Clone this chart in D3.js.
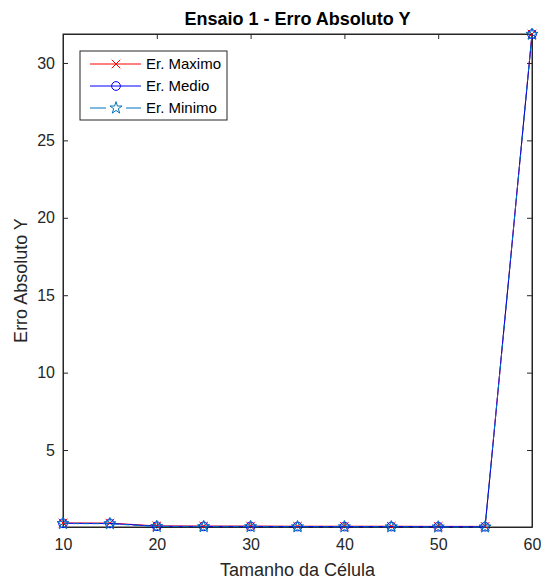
<!DOCTYPE html>
<html>
<head>
<meta charset="utf-8">
<script src="https://cdn.jsdelivr.net/npm/d3@7"></script>
<style>
  body { margin: 0; background: #fff; }
  text { font-family: "Liberation Sans", Arial, sans-serif; }
</style>
</head>
<body>
<div id="chart"></div>
<script>
// data
const cellSizes = [10, 15, 20, 25, 30, 35, 40, 45, 50, 55, 60];
const erroMaximo = [0.29, 0.28, 0.10, 0.09, 0.09, 0.08, 0.08, 0.08, 0.07, 0.07, 31.87];
const erroMedio  = [0.27, 0.26, 0.08, 0.07, 0.07, 0.06, 0.06, 0.06, 0.05, 0.05, 31.86];
const erroMinimo = [0.25, 0.24, 0.06, 0.05, 0.05, 0.04, 0.04, 0.04, 0.03, 0.03, 31.85];
const xTicks = [10, 20, 30, 40, 50, 60];
const yTicks = [5, 10, 15, 20, 25, 30];
const seriesNames = ["Er. Maximo", "Er. Medio", "Er. Minimo"];

const width = 541, height = 581;
const margin = { top: 34, right: 9, bottom: 54, left: 63 };
const axisColor = "#262626";

const svg = d3.select("#chart").append("svg")
    .attr("width", width)
    .attr("height", height);

const allVals = erroMaximo.concat(erroMedio, erroMinimo);
const x = d3.scaleLinear().domain([10, 60]).range([margin.left, width - margin.right]);
const y = d3.scaleLinear().domain([d3.min(allVals), d3.max(allVals)])
    .range([height - margin.bottom, margin.top]);

const plotW = width - margin.left - margin.right;
const plotH = height - margin.top - margin.bottom;

// axes (ticks inward, like matlab)
const xAxis = svg.append("g")
    .attr("transform", `translate(0,${height - margin.bottom})`)
    .call(d3.axisBottom(x).tickValues(xTicks).tickSizeInner(-5).tickSizeOuter(0).tickPadding(12));
const xAxisTop = svg.append("g")
    .attr("transform", `translate(0,${margin.top})`)
    .call(d3.axisTop(x).tickValues(xTicks).tickSizeInner(-5).tickSizeOuter(0).tickFormat(""));
const yAxis = svg.append("g")
    .attr("transform", `translate(${margin.left},0)`)
    .call(d3.axisLeft(y).tickValues(yTicks).tickSizeInner(-5).tickSizeOuter(0).tickPadding(8));
const yAxisRight = svg.append("g")
    .attr("transform", `translate(${width - margin.right},0)`)
    .call(d3.axisRight(y).tickValues(yTicks).tickSizeInner(-5).tickSizeOuter(0).tickFormat(""));

[xAxis, xAxisTop, yAxis, yAxisRight].forEach(function (g) {
    g.selectAll("path, line").attr("stroke", axisColor).attr("stroke-width", 1);
    g.selectAll("text").attr("fill", axisColor).style("font-size", "16px")
        .style("font-family", "'Liberation Sans', Arial, sans-serif");
});

// box
svg.append("rect")
    .attr("x", margin.left).attr("y", margin.top)
    .attr("width", plotW).attr("height", plotH)
    .attr("fill", "none").attr("stroke", axisColor).attr("stroke-width", 1);

// titles
svg.append("text")
    .attr("x", margin.left + plotW / 2).attr("y", 25)
    .attr("text-anchor", "middle")
    .style("font-size", "18px").style("font-weight", "bold")
    .attr("fill", "#000")
    .text("Ensaio 1 - Erro Absoluto Y");

svg.append("text")
    .attr("x", margin.left + plotW / 2).attr("y", 576)
    .attr("text-anchor", "middle")
    .style("font-size", "18px")
    .attr("fill", axisColor)
    .text("Tamanho da Célula");

svg.append("text")
    .attr("transform", `translate(27,${margin.top + plotH / 2}) rotate(-90)`)
    .attr("text-anchor", "middle")
    .style("font-size", "18px")
    .attr("fill", axisColor)
    .text("Erro Absoluto Y");

// marker helpers
const markX = d3.symbol().type(d3.symbolX).size(50);
const markO = d3.symbol().type(d3.symbolCircle).size(60);
const markStar = d3.symbol().type(d3.symbolStar).size(45);

const series = [
    { name: seriesNames[0], vals: erroMaximo, color: "#ff0000", dash: null, sym: markX },
    { name: seriesNames[1], vals: erroMedio, color: "#0000ff", dash: null, sym: markO },
    { name: seriesNames[2], vals: erroMinimo, color: "#0072bd", dash: "6,4", sym: markStar }
];

const line = d3.line().x((d, i) => x(cellSizes[i])).y(d => y(d));

series.forEach(function (s) {
    const g = svg.append("g");
    g.append("path")
        .datum(s.vals)
        .attr("d", line)
        .attr("fill", "none")
        .attr("stroke", s.color)
        .attr("stroke-width", 1)
        .attr("stroke-dasharray", s.dash);
    g.selectAll("path.mk")
        .data(s.vals)
        .enter()
        .append("path")
        .attr("class", "mk")
        .attr("d", s.sym)
        .attr("transform", (d, i) => `translate(${x(cellSizes[i])},${y(d)})`)
        .attr("fill", "none")
        .attr("stroke", s.color)
        .attr("stroke-width", 1);
});

// legend
const legend = svg.append("g");
legend.append("rect")
    .attr("x", 80).attr("y", 51)
    .attr("width", 147).attr("height", 69)
    .attr("fill", "#fff").attr("stroke", axisColor).attr("stroke-width", 1);

series.forEach(function (s, i) {
    const ly = 64 + i * 22;
    legend.append("line")
        .attr("x1", 90).attr("x2", 141)
        .attr("y1", ly).attr("y2", ly)
        .attr("stroke", s.color).attr("stroke-width", 1)
        .attr("stroke-dasharray", s.dash ? "16,20" : null);
    legend.append("path")
        .attr("d", s.sym)
        .attr("transform", `translate(116,${ly})`)
        .attr("fill", "none").attr("stroke", s.color).attr("stroke-width", 1);
    legend.append("text")
        .attr("x", 146).attr("y", ly)
        .attr("dy", "0.35em")
        .style("font-size", "15px")
        .attr("fill", "#000")
        .text(s.name);
});
</script>
</body>
</html>
